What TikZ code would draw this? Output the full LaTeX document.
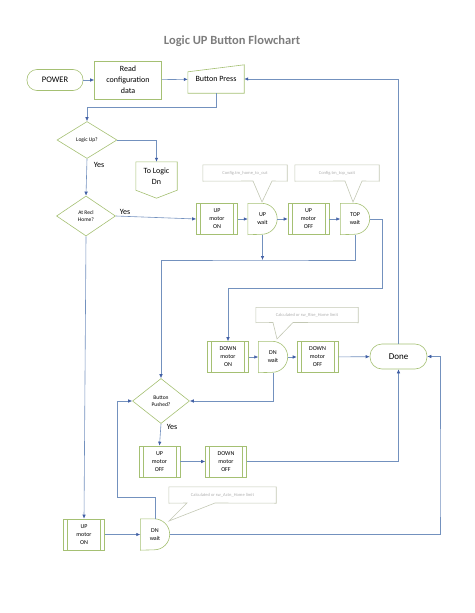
\documentclass[tikz,border=0pt]{standalone}
\usepackage{fontspec}
\setmainfont{Carlito}
\usetikzlibrary{arrows.meta,shapes.geometric}
\definecolor{flowblue}{RGB}{115,145,190}
\definecolor{tipblue}{RGB}{65,95,165}
\definecolor{boxgreen}{RGB}{165,192,115}
\definecolor{notegray}{RGB}{175,175,175}
\definecolor{noteline}{RGB}{195,200,180}
\definecolor{titlegray}{RGB}{125,125,125}
\begin{document}
\begin{tikzpicture}[x=1pt,y=-1pt,
  flow/.style={draw=flowblue,line width=0.6pt,-{Latex[length=4pt,width=3.5pt,color=tipblue]}},
  outline/.style={draw=boxgreen,line width=0.6pt},
  blank/.style={inner sep=0pt,align=center},
  term/.style={outline,blank,rounded corners=10pt,minimum width=56pt,minimum height=21pt,font=\fontsize{8.5}{10}\selectfont},
  procbox/.style={outline,blank,minimum width=67pt,minimum height=38pt,font=\fontsize{8}{11}\selectfont},
  manin/.style={blank,minimum width=56pt,minimum height=28pt,font=\fontsize{8}{10}\selectfont},
  decision/.style={outline,blank,diamond,minimum width=58pt,minimum height=40pt,font=\fontsize{5.5}{7}\selectfont},
  predef/.style={outline,blank,minimum width=41pt,minimum height=31pt,font=\fontsize{6}{8}\selectfont,
    path picture={\draw[boxgreen,line width=0.6pt]
      ([xshift=4pt]path picture bounding box.north west) -- ([xshift=4pt]path picture bounding box.south west)
      ([xshift=-4pt]path picture bounding box.north east) -- ([xshift=-4pt]path picture bounding box.south east);}},
  waitbox/.style={blank,minimum width=29pt,minimum height=31pt,font=\fontsize{6}{8}\selectfont},
  note/.style={blank,text=notegray,font=\fontsize{4.5}{5}\selectfont},
  yes/.style={font=\fontsize{8}{10}\selectfont}]
  \useasboundingbox (0,0) rectangle (474,613);
  \node[text=titlegray,font=\fontsize{12.5}{15}\selectfont\bfseries] (title) at (232,41) {Logic UP Button Flowchart};

  \node[term] (power) at (55,80) {POWER};
  \node[procbox] (readcfg) at (128,80) {Read\\configuration\\data};
  \node[manin] (btnpress) at (216,79) {Button Press};
  \draw[outline] ([yshift=-7pt]btnpress.north west) -- (btnpress.north east) -- (btnpress.south east) -- (btnpress.south west) -- cycle;

  \node[decision,minimum width=60pt,minimum height=37pt] (logicup) at (87,140) {Logic Up?};
  \node[blank,minimum width=41pt,minimum height=28pt,font=\fontsize{8}{11}\selectfont] (tologicdn) at (156.5,176) {To Logic\\Dn};
  \draw[outline] (tologicdn.south east) -- (tologicdn.north east) -- (tologicdn.north west) -- (tologicdn.south west) -- ([yshift=-8pt]tologicdn.south) -- cycle;
  \node[decision,minimum width=59pt] (athome) at (86,216) {At Recl\\Home?};
  \node[yes] (yesa) at (99,165) {Yes};
  \node[yes] (yesb) at (125,212) {Yes};

  \node[predef] (upon) at (217,219) {UP\\motor\\ON};
  \node[waitbox] (upwait) at (262.5,219) {UP\\wait};
  \node[predef] (upoff) at (308.5,219) {UP\\motor\\OFF};
  \node[waitbox] (topwait) at (355,219) {TOP\\wait};

  \node[predef] (dnon) at (228,357) {DOWN\\motor\\ON};
  \node[waitbox] (dnwait) at (273,357) {DN\\wait};
  \node[predef] (dnoff) at (317.5,357) {DOWN\\motor\\OFF};
  \node[term,minimum width=57pt,minimum height=25pt,rounded corners=12pt,font=\fontsize{9}{11}\selectfont] (done) at (398.5,356.5) {Done};

  \node[decision,minimum width=57pt,minimum height=45pt] (btnpushed) at (161,401) {Button\\Pushed?};
  \node[yes] (yesc) at (172,427) {Yes};
  \node[predef] (upoffb) at (159.5,461.5) {UP\\motor\\OFF};
  \node[predef] (dnoffb) at (226,461.5) {DOWN\\motor\\OFF};

  \node[predef] (uponb) at (84,534.5) {UP\\motor\\ON};
  \node[waitbox] (dnwaitb) at (155,534.5) {DN\\wait};

  \foreach \n in {upwait,topwait,dnwait,dnwaitb}
    \draw[outline] (\n.north west) -- ([xshift=-15.5pt]\n.north east) arc[start angle=90,end angle=-90,radius=15.5pt] -- (\n.south west) -- cycle;

  \node[note,minimum width=84pt,minimum height=16pt] (cfgout) at (245,173) {Config.tm\_home\_to\_out};
  \draw[noteline,line width=0.6pt] (cfgout.south west) -- (253,181) -- (262,202) -- (272,181) -- (cfgout.south east) -- (cfgout.north east) -- (cfgout.north west) -- cycle;
  \node[note,minimum width=84pt,minimum height=16pt] (cfgtop) at (337,173) {Config.tm\_top\_wait};
  \draw[noteline,line width=0.6pt] (cfgtop.south west) -- (345,181) -- (353,202) -- (362,181) -- (cfgtop.south east) -- (cfgtop.north east) -- (cfgtop.north west) -- cycle;
  \node[note,minimum width=102pt,minimum height=15pt] (calcrise) at (307,315) {Calculated or sw\_Rise\_Home limit};
  \draw[noteline,line width=0.6pt] (calcrise.south west) -- (273,322.5) -- (277,339) -- (293,322.5) -- (calcrise.south east) -- (calcrise.north east) -- (calcrise.north west) -- cycle;
  \node[note,minimum width=107pt,minimum height=16pt] (calcactn) at (222.5,495) {Calculated or sw\_Actn\_Home limit};
  \draw[noteline,line width=0.6pt] (calcactn.south west) -- (187,503) -- (169,521) -- (215,503) -- (calcactn.south east) -- (calcactn.north east) -- (calcactn.north west) -- cycle;

  \coordinate (jup) at (262.5,260);
  \coordinate (rtop) at (382,288);
  \coordinate (lft) at (117,497);
  \coordinate (rbot) at (440,500);

  \draw[flow] (power) -- (readcfg);
  \draw[flow] (readcfg) -- (btnpress);
  \draw[flow] (btnpress.south) -- ++(0,14) -| (logicup.north);
  \draw[flow] (logicup.east) -| (tologicdn.north);
  \draw[flow] (logicup.south) -- (athome.north);
  \draw[flow] (athome.east) -- (upon.west);
  \draw[flow] (upon) -- (upwait);
  \draw[flow] (upwait) -- (upoff);
  \draw[flow] (upoff) -- (topwait);
  \draw[flow] (upwait.south) -- (jup);
  \draw[flow] (topwait.south) |- (jup) -| (btnpushed.north);
  \draw[flow] (topwait.east) -| (rtop) -| (dnon.north);
  \draw[flow] (dnon) -- (dnwait);
  \draw[flow] (dnwait) -- (dnoff);
  \draw[flow] (dnoff) -- (done);
  \draw[flow] (done.north) |- (btnpress.east);
  \draw[flow] (dnwait.south) |- (btnpushed.east);
  \draw[flow] (btnpushed.south) -- (upoffb.north);
  \draw[flow] (upoffb) -- (dnoffb);
  \draw[flow] (dnoffb.east) -| (done.south);
  \draw[flow] (athome.south) -- (uponb.north);
  \draw[flow] (uponb) -- (dnwaitb);
  \draw[flow] (dnwaitb.north) |- (lft) |- (btnpushed.west);
  \draw[flow] (dnwaitb.east) -| (rbot) |- (done.east);
\end{tikzpicture}
\end{document}
